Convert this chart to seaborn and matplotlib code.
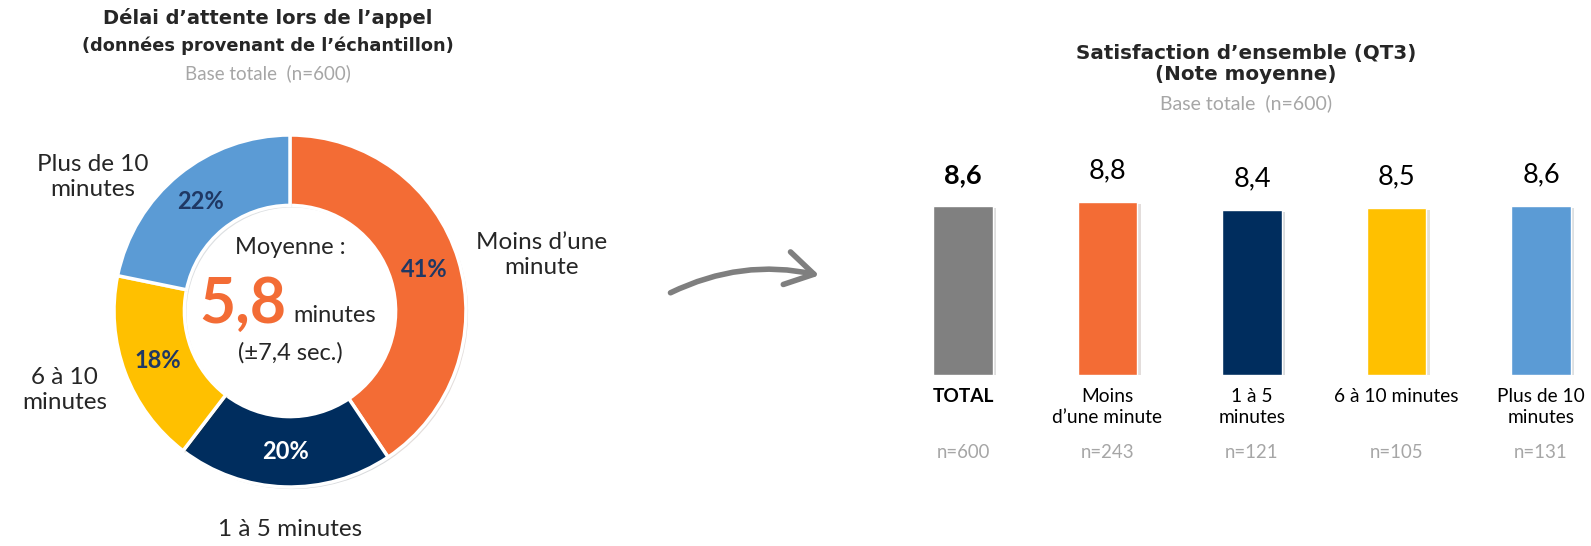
import matplotlib
matplotlib.use("Agg")
import matplotlib.pyplot as plt
import matplotlib.patheffects as pe
from matplotlib.patches import FancyArrowPatch
import numpy as np
import pandas as pd
import seaborn as sns

# ---- data ----
wait_labels = ["Moins d\u2019une\nminute", "1 \u00e0 5 minutes", "6 \u00e0 10\nminutes", "Plus de 10\nminutes"]
wait_pct = [41, 20, 18, 22]
wait_colors = ["#F36C35", "#002D5E", "#FFC000", "#5B9BD5"]
pct_text_colors = ["#1F3864", "white", "#1F3864", "#1F3864"]

bar_labels = ["TOTAL", "Moins\nd\u2019une minute", "1 \u00e0 5\nminutes", "6 \u00e0 10 minutes", "Plus de 10\nminutes"]
bar_scores = [8.6, 8.8, 8.4, 8.5, 8.6]
bar_n = [600, 243, 121, 105, 131]
bar_colors = ["#808080", "#F36C35", "#002D5E", "#FFC000", "#5B9BD5"]

mean_wait = "5,8"

sns.set_theme(style="white")
plt.rcParams["font.family"] = ["Lato", "DejaVu Sans"]

W, H = 1591, 546
fig = plt.figure(figsize=(W / 100, H / 100), dpi=100)
fig.patch.set_facecolor("white")


def fx(px):
    return px / W


def fy(py):
    return 1 - py / H


TITLE_FONT = ["DejaVu Sans"]
GREY = "#A6A6A6"
DARK = "#262626"

# ---- donut ----
cx, cy, R = 290, 311, 183
half = 220
ax_d = fig.add_axes([fx(cx - half), fy(cy + half), 2 * half / W, 2 * half / H])
lim = half / R
ax_d.set_xlim(-lim, lim)
ax_d.set_ylim(-lim, lim)
ax_d.set_aspect("equal")
ax_d.axis("off")

wedges, _ = ax_d.pie(
    wait_pct, colors=wait_colors, startangle=90, counterclock=False,
    radius=1.0, wedgeprops=dict(width=0.4, edgecolor="white", linewidth=2.5),
)
for w in wedges:
    w.set_path_effects([pe.SimplePatchShadow(offset=(1.5, -1.5), alpha=0.15), pe.Normal()])

for w, v, c in zip(wedges, wait_pct, pct_text_colors):
    ang = np.deg2rad((w.theta1 + w.theta2) / 2)
    ax_d.text(0.8 * np.cos(ang), 0.8 * np.sin(ang), f"{v}%", ha="center", va="center",
              fontsize=17, fontweight="bold", color=c)

label_pos = [(1.43, 0.317), (0.0, -1.24), (-1.28, -0.45), (-1.12, 0.76)]
for (x, y), lab in zip(label_pos, wait_labels):
    ax_d.text(x, y, lab, ha="center", va="center", fontsize=17.5, color=DARK, linespacing=1.25)

ax_d.text(0, 0.36, "Moyenne :", ha="center", va="center", fontsize=17, color=DARK)
ax_d.text(-0.02, -0.065, mean_wait, ha="right", va="baseline", fontsize=45,
          fontweight="bold", color="#F36C35")
ax_d.text(0.02, -0.065, "minutes", ha="left", va="baseline", fontsize=17, color=DARK)
ax_d.text(0, -0.24, "(\u00b17,4 sec.)", ha="center", va="center", fontsize=17, color=DARK)

# ---- left title ----
fig.text(fx(268), fy(18), "D\u00e9lai d\u2019attente lors de l\u2019appel", ha="center", va="center",
         fontsize=14, fontweight="bold", color=DARK, family=TITLE_FONT)
fig.text(fx(268), fy(46), "(donn\u00e9es provenant de l\u2019\u00e9chantillon)", ha="center", va="center",
         fontsize=12.8, fontweight="bold", color=DARK, family=TITLE_FONT)
fig.text(fx(268), fy(73), "Base totale  (n=600)", ha="center", va="center",
         fontsize=13.5, color=GREY)

# ---- arrow ----
arrow = FancyArrowPatch((fx(668), fy(294)), (fx(822), fy(276)), transform=fig.transFigure,
                        connectionstyle="arc3,rad=-0.18",
                        arrowstyle="->,head_length=20,head_width=12",
                        color="#7F7F7F", linewidth=4, capstyle="round", joinstyle="round")
fig.patches.append(arrow)

# ---- bars ----
ax_left, ax_right = 880, 1591
bar_bottom = 375
ppu = 144.5
ax_b = fig.add_axes([fx(ax_left), fy(bar_bottom), (ax_right - ax_left) / W, 220 / H])
df = pd.DataFrame({"cat": bar_labels, "score": bar_scores})
sns.barplot(data=df, x="cat", y="score", hue="cat", palette=bar_colors, legend=False,
            width=0.41, saturation=1, ax=ax_b)
x0 = -(963 - ax_left) / ppu
ax_b.set_xlim(x0, x0 + (ax_right - ax_left) / ppu)
ax_b.set_ylim(0, 220 / 19.7)
for p in ax_b.patches:
    p.set_path_effects([pe.SimplePatchShadow(offset=(2.5, -2), alpha=0.15), pe.Normal()])

for i, (p, v) in enumerate(zip(ax_b.patches, bar_scores)):
    ax_b.annotate(f"{v:.1f}".replace(".", ","), (p.get_x() + p.get_width() / 2, p.get_height()),
                  xytext=(0, 13), textcoords="offset points", ha="center", va="bottom",
                  fontsize=19.5, color="black", fontweight="bold" if i == 0 else "normal")

ax_b.set_xlabel("")
ax_b.set_ylabel("")
ax_b.set_yticks([])
ax_b.set_xticks(range(len(bar_labels)))
ax_b.set_xticklabels(bar_labels, fontsize=13.8, color="black", linespacing=1.3)
ax_b.get_xticklabels()[0].set_fontweight("bold")
ax_b.tick_params(axis="x", length=0, pad=9)
sns.despine(ax=ax_b, left=True, bottom=True)

for i, n in enumerate(bar_n):
    ax_b.text(i, -(452 - bar_bottom) / 19.7, f"n={n}", ha="center", va="center",
              fontsize=13.4, color=GREY)

# ---- right title ----
fig.text(fx(1246), fy(53), "Satisfaction d\u2019ensemble (QT3)", ha="center", va="center",
         fontsize=14.3, fontweight="bold", color=DARK, family=TITLE_FONT)
fig.text(fx(1246), fy(75), "(Note moyenne)", ha="center", va="center",
         fontsize=14.3, fontweight="bold", color=DARK, family=TITLE_FONT)
fig.text(fx(1246), fy(103), "Base totale  (n=600)", ha="center", va="center",
         fontsize=14, color=GREY)

fig.savefig("out.png", dpi=100, facecolor="white")
